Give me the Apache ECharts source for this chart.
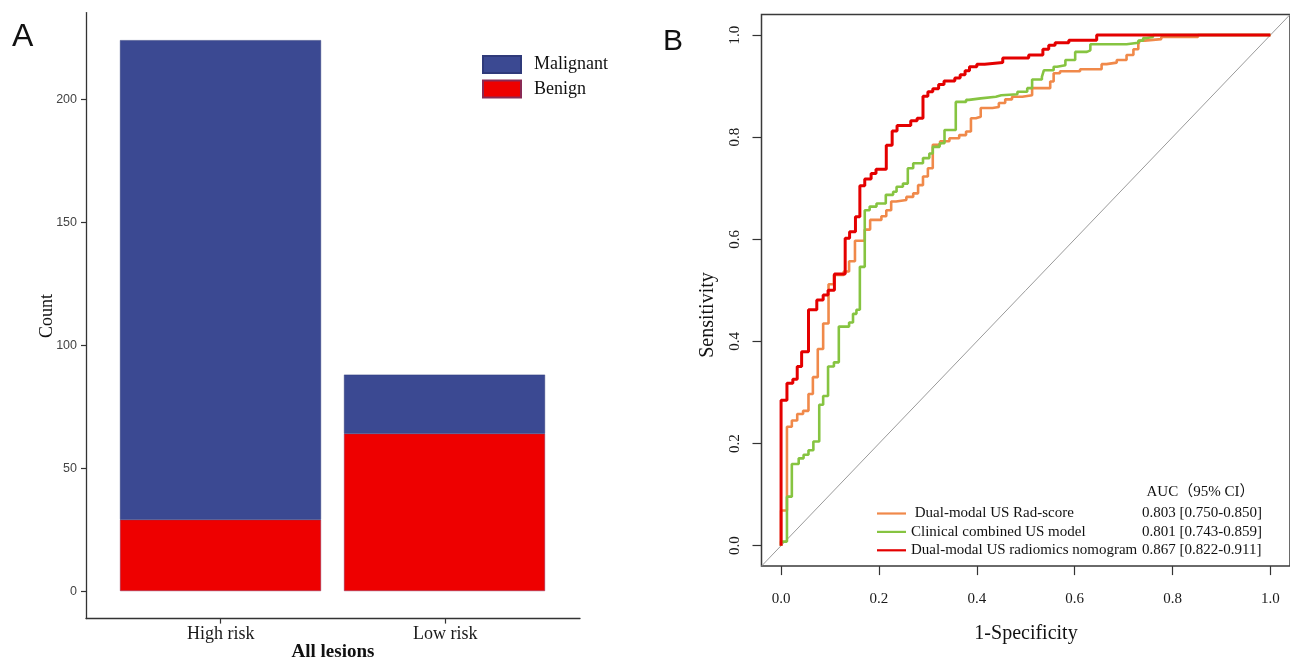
<!DOCTYPE html>
<html>
<head>
<meta charset="utf-8">
<script src="https://cdn.jsdelivr.net/npm/echarts@6/dist/echarts.min.js"></script>
<style>
html,body{margin:0;padding:0;background:#fff;}
#c{width:1290px;height:662px;}
</style>
</head>
<body>
<div id="c"></div>
<script>
// ---------- Panel A data ----------
var categories = ['High risk', 'Low risk'];
var malignant = [195, 24];
var benign = [29, 64];
var countTicks = [0, 50, 100, 150, 200];
var categoryTicks = [1, 2];

// ---------- Panel B data ----------
var rocNames = ['Dual-modal US Rad-score', 'Clinical combined US model', 'Dual-modal US radiomics nomogram'];
var aucLabels = ['0.803 [0.750-0.850]', '0.801 [0.743-0.859]', '0.867 [0.822-0.911]'];
var rateTicks = [0, 0.2, 0.4, 0.6, 0.8, 1];
var diagonal = [[-0.04, -0.04], [1.04, 1.04]];

var radScoreROC = [[0,0],[0,0.069],[0.012,0.069],[0.012,0.233],[0.022,0.233],[0.022,0.245],[0.033,0.245],[0.033,0.258],[0.045,0.258],[0.045,0.264],[0.056,0.264],[0.056,0.297],[0.065,0.297],[0.065,0.33],[0.075,0.33],[0.075,0.385],[0.086,0.385],[0.086,0.435],[0.097,0.435],[0.097,0.512],[0.108,0.512],[0.108,0.53],[0.128,0.53],[0.128,0.537],[0.139,0.537],[0.139,0.557],[0.151,0.557],[0.151,0.597],[0.171,0.597],[0.171,0.619],[0.182,0.619],[0.182,0.638],[0.205,0.638],[0.205,0.645],[0.215,0.645],[0.215,0.657],[0.225,0.657],[0.225,0.674],[0.235,0.674],[0.235,0.677],[0.256,0.677],[0.256,0.683],[0.27,0.683],[0.27,0.69],[0.28,0.69],[0.28,0.706],[0.29,0.706],[0.29,0.723],[0.3,0.723],[0.3,0.739],[0.31,0.739],[0.31,0.785],[0.325,0.785],[0.325,0.792],[0.344,0.792],[0.344,0.798],[0.364,0.798],[0.364,0.804],[0.378,0.804],[0.378,0.811],[0.388,0.811],[0.388,0.837],[0.398,0.837],[0.398,0.84],[0.408,0.84],[0.408,0.857],[0.432,0.857],[0.432,0.859],[0.445,0.859],[0.445,0.867],[0.458,0.867],[0.458,0.874],[0.472,0.874],[0.472,0.879],[0.493,0.879],[0.493,0.882],[0.513,0.882],[0.513,0.896],[0.55,0.896],[0.55,0.909],[0.557,0.909],[0.557,0.925],[0.57,0.925],[0.57,0.929],[0.611,0.929],[0.611,0.933],[0.655,0.933],[0.655,0.943],[0.665,0.943],[0.665,0.946],[0.686,0.946],[0.686,0.951],[0.706,0.951],[0.706,0.961],[0.72,0.961],[0.72,0.972],[0.73,0.972],[0.73,0.982],[0.733,0.982],[0.733,0.989],[0.743,0.989],[0.743,0.992],[0.777,0.992],[0.777,0.996],[0.852,0.996],[0.852,1],[1,1]];

var clinicalROC = [[0,0],[0,0.008],[0.012,0.008],[0.012,0.096],[0.022,0.096],[0.022,0.16],[0.036,0.16],[0.036,0.171],[0.046,0.171],[0.046,0.178],[0.056,0.178],[0.056,0.187],[0.066,0.187],[0.066,0.204],[0.078,0.204],[0.078,0.276],[0.086,0.276],[0.086,0.293],[0.096,0.293],[0.096,0.351],[0.108,0.351],[0.108,0.359],[0.118,0.359],[0.118,0.429],[0.139,0.429],[0.139,0.437],[0.147,0.437],[0.147,0.454],[0.154,0.454],[0.154,0.462],[0.161,0.462],[0.161,0.546],[0.171,0.546],[0.171,0.657],[0.181,0.657],[0.181,0.664],[0.195,0.664],[0.195,0.67],[0.214,0.67],[0.214,0.687],[0.229,0.687],[0.229,0.693],[0.236,0.693],[0.236,0.703],[0.249,0.703],[0.249,0.709],[0.259,0.709],[0.259,0.739],[0.27,0.739],[0.27,0.749],[0.29,0.749],[0.29,0.759],[0.303,0.759],[0.303,0.768],[0.31,0.768],[0.31,0.781],[0.324,0.781],[0.324,0.788],[0.334,0.788],[0.334,0.814],[0.357,0.814],[0.357,0.869],[0.378,0.869],[0.378,0.873],[0.384,0.873],[0.384,0.876],[0.408,0.876],[0.408,0.879],[0.439,0.879],[0.439,0.882],[0.45,0.882],[0.45,0.884],[0.483,0.884],[0.483,0.889],[0.503,0.889],[0.503,0.896],[0.513,0.896],[0.513,0.913],[0.533,0.913],[0.533,0.918],[0.537,0.918],[0.537,0.931],[0.557,0.931],[0.557,0.938],[0.564,0.938],[0.564,0.941],[0.581,0.941],[0.581,0.951],[0.601,0.951],[0.601,0.967],[0.625,0.967],[0.625,0.97],[0.632,0.97],[0.632,0.982],[0.706,0.982],[0.706,0.985],[0.73,0.985],[0.73,0.989],[0.74,0.989],[0.74,0.994],[0.747,0.994],[0.747,0.996],[0.76,0.996],[0.76,1],[1,1]];

var nomogramROC = [[0,0],[0,0.285],[0.012,0.285],[0.012,0.318],[0.024,0.318],[0.024,0.326],[0.033,0.326],[0.033,0.351],[0.042,0.351],[0.042,0.38],[0.056,0.38],[0.056,0.462],[0.073,0.462],[0.073,0.481],[0.086,0.481],[0.086,0.491],[0.096,0.491],[0.096,0.5],[0.109,0.5],[0.109,0.532],[0.131,0.532],[0.131,0.602],[0.14,0.602],[0.14,0.615],[0.152,0.615],[0.152,0.644],[0.161,0.644],[0.161,0.705],[0.171,0.705],[0.171,0.718],[0.184,0.718],[0.184,0.729],[0.194,0.729],[0.194,0.737],[0.215,0.737],[0.215,0.784],[0.227,0.784],[0.227,0.812],[0.237,0.812],[0.237,0.823],[0.265,0.823],[0.265,0.832],[0.278,0.832],[0.278,0.837],[0.29,0.837],[0.29,0.88],[0.3,0.88],[0.3,0.889],[0.31,0.889],[0.31,0.895],[0.322,0.895],[0.322,0.903],[0.333,0.903],[0.333,0.91],[0.355,0.91],[0.355,0.916],[0.366,0.916],[0.366,0.922],[0.376,0.922],[0.376,0.93],[0.385,0.93],[0.385,0.938],[0.4,0.938],[0.4,0.943],[0.416,0.943],[0.416,0.946],[0.453,0.946],[0.453,0.955],[0.506,0.955],[0.506,0.961],[0.535,0.961],[0.535,0.972],[0.547,0.972],[0.547,0.98],[0.56,0.98],[0.56,0.985],[0.588,0.985],[0.588,0.99],[0.645,0.99],[0.645,1],[1,1]];

var SERIF = "'Liberation Serif', 'Times New Roman', serif";
var SANS = "'Liberation Sans', Arial, sans-serif";
var rocColors = ['#F0894A', '#86C441', '#E40000'];

var chart = echarts.init(document.getElementById('c'), null, {renderer: 'canvas'});

var option = {
  backgroundColor: '#fff',
  animation: false,
  grid: [
    {left: 86, top: 12.6, width: 494, height: 606},
    {left: 761.5, top: 14.6, width: 531, height: 551.5, show: true, borderColor: '#3a3a3a', borderWidth: 1.5, backgroundColor: 'transparent'},
    {left: 108.5, top: 12.6, width: 448, height: 606}
  ],
  xAxis: [
    {
      gridIndex: 0, type: 'value', min: 0.4, max: 2.6,
      splitLine: {show: false},
      axisLine: {show: true, onZero: false, lineStyle: {color: '#333', width: 1.3}},
      axisTick: {show: true, length: 5, customValues: categoryTicks, lineStyle: {color: '#333', width: 1.2}},
      axisLabel: {customValues: categoryTicks, margin: 7, fontFamily: SERIF, fontSize: 18, color: '#1a1a1a',
        formatter: function (v) { return categories[Math.round(v) - 1]; }}
    },
    {
      gridIndex: 1, type: 'value', min: -0.04, max: 1.04,
      splitLine: {show: false},
      axisLine: {show: false, onZero: false},
      axisTick: {show: true, length: 9, customValues: rateTicks, lineStyle: {color: '#333', width: 1.2}},
      axisLabel: {customValues: rateTicks, margin: 25, fontFamily: SERIF, fontSize: 15, color: '#1a1a1a',
        formatter: function (v) { return v.toFixed(1); }}
    },
    {
      gridIndex: 2, type: 'category', data: categories, show: false
    }
  ],
  yAxis: [
    {
      gridIndex: 0, type: 'value', min: -11.2, max: 235.2,
      splitLine: {show: false},
      axisLine: {show: true, onZero: false, lineStyle: {color: '#333', width: 1.3}},
      axisTick: {show: true, length: 5, customValues: countTicks, lineStyle: {color: '#333', width: 1.2}},
      axisLabel: {customValues: countTicks, margin: 9, fontFamily: SANS, fontSize: 12.5, color: '#444'}
    },
    {
      gridIndex: 1, type: 'value', min: -0.04, max: 1.04,
      splitLine: {show: false},
      axisLine: {show: false, onZero: false},
      axisTick: {show: true, length: 9, customValues: rateTicks, lineStyle: {color: '#333', width: 1.2}},
      axisLabel: {customValues: rateTicks, margin: 19, rotate: 90, fontFamily: SERIF, fontSize: 15, color: '#1a1a1a',
        formatter: function (v) { return v.toFixed(1); }}
    },
    {
      gridIndex: 2, type: 'value', min: -11.2, max: 235.2, show: false, splitLine: {show: false}
    }
  ],
  legend: [
    {
      data: ['Malignant', 'Benign'], orient: 'vertical', left: 482, top: 55, padding: 0,
      itemWidth: 38, itemHeight: 17, itemGap: 5.6, icon: 'rect', selectedMode: false,
      textStyle: {fontFamily: SERIF, fontSize: 18, lineHeight: 18, color: '#111', padding: [0, 0, 0, 8]}
    },
    {
      data: rocNames, orient: 'vertical', left: 877, top: 504.5, padding: 0,
      itemWidth: 29, itemHeight: 2.2, itemGap: 0.4, icon: 'rect', selectedMode: false,
      formatter: function (name) {
        var i = rocNames.indexOf(name);
        return '{a|' + (i === 0 ? ' ' : '') + name + '}{b|' + aucLabels[i] + '}';
      },
      textStyle: {fontFamily: SERIF, fontSize: 15, lineHeight: 18, color: '#111',
        rich: {
          a: {width: 231, fontFamily: SERIF, fontSize: 15, lineHeight: 18, color: '#111'},
          b: {fontFamily: SERIF, fontSize: 15, lineHeight: 18, color: '#111'}
        }}
    }
  ],
  series: [
    {
      name: 'Benign', type: 'bar', xAxisIndex: 2, yAxisIndex: 2, stack: 'lesions', barWidth: 201,
      data: benign,
      itemStyle: {color: '#EE0000', borderColor: '#8a2a55', borderWidth: 0.5}
    },
    {
      name: 'Malignant', type: 'bar', xAxisIndex: 2, yAxisIndex: 2, stack: 'lesions', barWidth: 201,
      data: malignant,
      itemStyle: {color: '#3B4992', borderColor: '#2f3a7a', borderWidth: 0.5}
    },
    {
      name: 'diag', type: 'line', xAxisIndex: 1, yAxisIndex: 1, data: diagonal, symbol: 'none',
      lineStyle: {color: '#9a9a9a', width: 1}, silent: true, z: 1
    },
    {
      name: rocNames[0], type: 'line', xAxisIndex: 1, yAxisIndex: 1, data: radScoreROC, symbol: 'none',
      color: rocColors[0], lineStyle: {color: rocColors[0], width: 2.6}, z: 2
    },
    {
      name: rocNames[1], type: 'line', xAxisIndex: 1, yAxisIndex: 1, data: clinicalROC, symbol: 'none',
      color: rocColors[1], lineStyle: {color: rocColors[1], width: 2.6}, z: 3
    },
    {
      name: rocNames[2], type: 'line', xAxisIndex: 1, yAxisIndex: 1, data: nomogramROC, symbol: 'none',
      color: rocColors[2], lineStyle: {color: rocColors[2], width: 3}, z: 4
    }
  ],
  graphic: [
    {type: 'text', x: 12, y: 37, style: {text: 'A', fontFamily: SANS, fontSize: 32, fill: '#111', textAlign: 'left', textVerticalAlign: 'middle'}},
    {type: 'text', x: 663, y: 42, style: {text: 'B', fontFamily: SANS, fontSize: 30, fill: '#111', textAlign: 'left', textVerticalAlign: 'middle'}},
    {type: 'text', x: 47, y: 316, rotation: Math.PI / 2, style: {text: 'Count', fontFamily: SERIF, fontSize: 18, fill: '#111', textAlign: 'center', textVerticalAlign: 'middle'}},
    {type: 'text', x: 333, y: 652, style: {text: 'All lesions', fontFamily: SERIF, fontWeight: 'bold', fontSize: 19, fill: '#111', textAlign: 'center', textVerticalAlign: 'middle'}},
    {type: 'text', x: 708, y: 315, rotation: Math.PI / 2, style: {text: 'Sensitivity', fontFamily: SERIF, fontSize: 20, fill: '#111', textAlign: 'center', textVerticalAlign: 'middle'}},
    {type: 'text', x: 1026, y: 634, style: {text: '1-Specificity', fontFamily: SERIF, fontSize: 20, fill: '#111', textAlign: 'center', textVerticalAlign: 'middle'}},
    {type: 'text', x: 1146.5, y: 492.5, style: {text: 'AUC（95% CI）', fontFamily: "'Liberation Serif', 'Noto Sans CJK SC', serif", fontSize: 15, fill: '#111', textAlign: 'left', textVerticalAlign: 'middle'}}
  ]
};
chart.setOption(option);
</script>
</body>
</html>
